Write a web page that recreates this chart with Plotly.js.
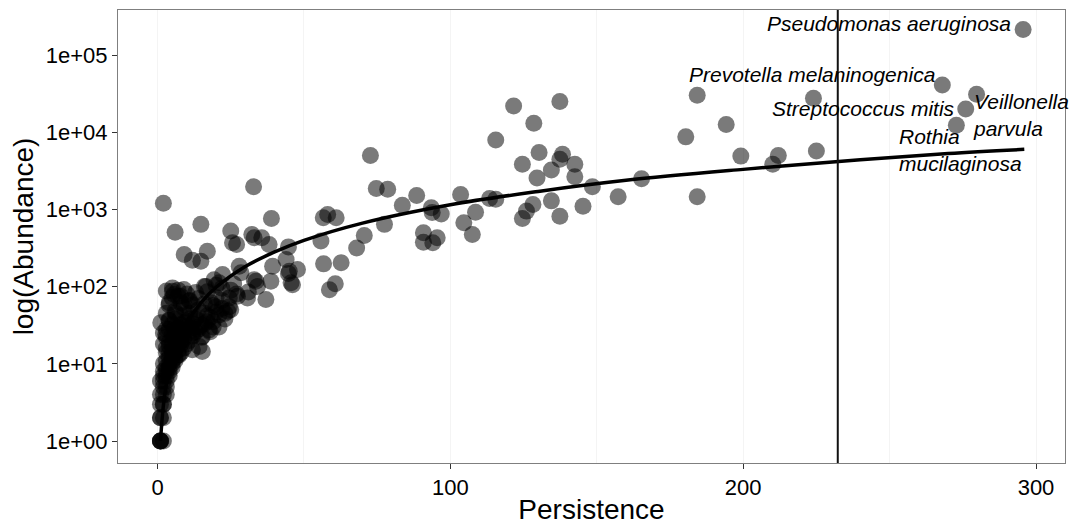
<!DOCTYPE html>
<html>
<head>
<meta charset="utf-8">
<script src="https://cdn.plot.ly/plotly-3.0.1.min.js"></script>
<style>html,body{margin:0;padding:0;background:#fff;}#chart{width:1074px;height:525px;}</style>
</head>
<body>
<div id="chart"></div>
<script>
// ---- data ----
// high-persistence taxa
const topX = [295.6,268,279.7,276,272.8,224,184.3,194.2,180.4,199.2,212,210.1,225,184.3,165.3];
const topY = [214000,41000,31000,20000,12300,27600,30200,12600,8700,4900,5000,3850,5700,1460,2500];
// mid-persistence taxa
const midX = [72.7,74.7,78.6,88.5,83.6,93.5,93.8,96.9,103.5,108.6,104.6,107.5,115.5,121.6,137.4,128.5,130.3,124.6,138.3,137.4,142.5,134.5,129.6,142.5,113.4,115.5,134.5,128.2,126,124.6,137.4,145.3,148.5,157.3,58.1,61,56.6,77.5,70.6,68,55.8,90.8,90.8,94,95.5,56.7,62.7,58.7,60.7];
const midY = [5000,1870,1820,1510,1130,1050,910,870,1560,920,670,473,7950,21900,25000,13100,5450,3840,5180,4470,3840,3240,2560,2650,1380,1350,1290,1160,950,760,815,1100,1970,1460,860,780,780,640,460,316,390,500,376,371,430,197,203,91,109];
// low-persistence taxa
const lowX = [32.8,2.0,38.9,14.8,6.0,25,32.2,25.6,27,33,35.6,38.1,44.7,17,9.1,11.9,14.8,43.9,39.3,47.8,44.7,46.1,27.9,28.5,33.6,34.1,38.7,37,22.2,19.3,16.5,21,27.3,24.5,30.7,5.1,5.6,7.9,3.9,10.8,18.2,45,45.6,33,5.1,1.1,2.8,3.9,6.2,9.1,14.2,17.6,21,19.9,24.5,15.3,11.9,7.4,14.2,15.3];
const lowY = [1970,1200,760,640,507,525,473,370,351,430,430,350,327,288,260,219,213,224,183,166,148,106,183,151,117,100,117,68,143,123,100,112,75,71,71,96,79,75,58,65,62,158,112,123,87,34,24,37,45,58,30,27.5,30,55,55,22.6,15.2,13,16.8,14.4];
// rare taxa near the origin
const rareX = [1,1,1,1,2, 1,1,2, 1,2,2, 1,2,3, 2,3, 1,2,3, 2,3,4, 2,3,4, 3,4,5, 2,4,5, 3,5,6, 4,6, 5,7, 4,6,8, 5,7, 3,6,9, 5,8,10, 4,7,
  11,6,9,3,8,12,5,10,2,7,13,9,4,11,6,8,12,16,4,10,19,6,13,23,8,17,3,11,20,6,14,25,9,19,4,12,16,8,22,11,5,14,20,27,7,10,25,31,13,17,3,7,9,22,16,20,26,
  12,14,15,17,18,21,23,13,16,19,22,24,11,15,18,3,4,6,7,5,8,9,3,2,10];
const rareY = [1,1,1,1,1, 2,2,2, 3,3,3, 4,4,4, 5,5, 6,6,6, 7,7,7, 8,8,8, 9,9,9, 10,10,10, 11,11,11, 12,12, 13,13, 14,14,14, 15,15, 16,16,16, 18,18,18, 19,19,
  20,21,21,22,23,23,24,24,25,26,26,27,28,29,30,32,33,33,36,36,35,38,38,38,42,42,45,45,47,48,50,50,53,57,62,58,60,62,66,66,72,70,72,80,75,80,90,85,84,86,88,90,92,95,100,104,108,
  25,28,32,35,40,43,45,40,45,30,52,48,38,22,26,14,17,25,29,32,20,34,28,18,30];
// fitted curve
const fitX = [1,2,3,4,5,7,10,15,20,30,40,50,70,100,130,160,200,240,270,296];
const fitY = [1,2.9,5.4,8.3,11.7,19.6,34,63,98,182,281,397,665,1150,1710,2380,3300,4400,5300,6000];
// persistence cut-off
const cutoff = 232.3;
// tick labels
const yTickVals = [1,10,100,1000,10000,100000];
const yTickText = ['1e+00','1e+01','1e+02','1e+03','1e+04','1e+05'];
const xTickVals = [0,100,200,300];
// labelled species
const speciesLabels = ['Pseudomonas aeruginosa','Prevotella melaninogenica','Streptococcus mitis','Veillonella<br>parvula','Rothia<br>mucilaginosa'];

const persistence = topX.concat(midX, lowX, rareX);
const abundance = topY.concat(midY, lowY, rareY);

const FONT = 'Liberation Sans, Arial, sans-serif';

const traces = [
  {
    type: 'scatter', mode: 'markers', x: persistence, y: abundance,
    marker: {color: '#000000', opacity: 0.52, size: 17, line: {width: 0}},
    hoverinfo: 'skip', showlegend: false
  },
  {
    type: 'scatter', mode: 'lines', x: fitX, y: fitY,
    line: {color: '#000000', width: 3.5, shape: 'spline'},
    hoverinfo: 'skip', showlegend: false
  }
];

const labelPos = [
  {x: 292.3, y: 5.405, xanchor: 'right'},
  {x: 266.1, y: 4.745, xanchor: 'right'},
  {x: 272.9, y: 4.303, xanchor: 'right'},
  {x: 277.8, y: 4.22, xanchor: 'left'},
  {x: 252.4, y: 3.776, xanchor: 'left'}
];

const annotations = speciesLabels.map((t, i) => ({
  text: '<i>' + t + '</i>', x: labelPos[i].x, y: labelPos[i].y, xref: 'x', yref: 'y',
  xanchor: labelPos[i].xanchor, yanchor: 'middle', align: 'left', showarrow: false,
  font: {family: FONT, size: 21, color: '#000'}
}));

const layout = {
  width: 1074, height: 525,
  margin: {l: 118, r: 9, t: 10, b: 62, pad: 0},
  paper_bgcolor: '#ffffff', plot_bgcolor: '#ffffff',
  font: {family: FONT, color: '#000'},
  showlegend: false,
  xaxis: {
    type: 'linear', range: [-13.5, 309.9], tickvals: xTickVals,
    showgrid: false, zeroline: false,
    minor: {dtick: 50, tick0: 0, showgrid: true, gridcolor: '#f4f4f4', gridwidth: 1, ticklen: 0},
    showline: true, mirror: true, linecolor: '#7f7f7f', linewidth: 1,
    ticks: 'outside', ticklen: 5, tickcolor: '#333333', tickwidth: 1,
    tickfont: {family: FONT, size: 22, color: '#000'},
    title: {text: 'Persistence', font: {family: FONT, size: 28, color: '#000'}, standoff: 2},
    automargin: false
  },
  yaxis: {
    type: 'log', range: [-0.285, 5.583], tickvals: yTickVals, ticktext: yTickText,
    showgrid: false, zeroline: false,
    showline: true, mirror: true, linecolor: '#7f7f7f', linewidth: 1,
    ticks: 'outside', ticklen: 5, tickcolor: '#333333', tickwidth: 1,
    tickfont: {family: FONT, size: 22, color: '#000'},
    title: {text: 'log(Abundance)', font: {family: FONT, size: 28, color: '#000'}, standoff: 4},
    automargin: false
  },
  shapes: [
    {type: 'line', xref: 'x', yref: 'paper', x0: cutoff, x1: cutoff, y0: 0, y1: 1,
     line: {color: '#111111', width: 2}, layer: 'above'}
  ],
  annotations: annotations
};

Plotly.newPlot('chart', traces, layout, {staticPlot: true, displayModeBar: false});
</script>
</body>
</html>
